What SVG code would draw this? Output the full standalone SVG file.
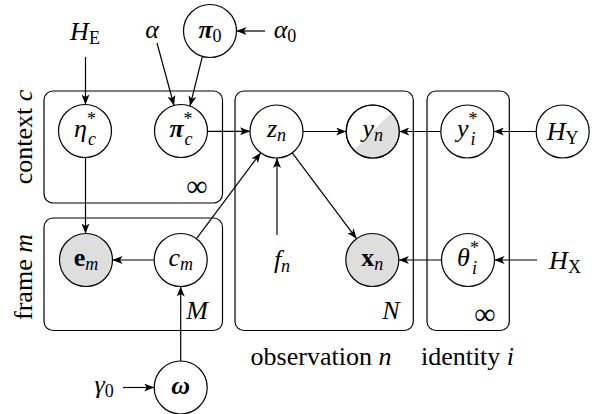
<svg xmlns="http://www.w3.org/2000/svg" width="592" height="414" viewBox="0 0 592 414" font-family="'Liberation Serif', 'Times New Roman', Tinos, 'DejaVu Serif', serif">
<style>
.nd{fill:#fff;stroke:#000;stroke-width:1.2}
.ob{fill:#dedede;stroke:#000;stroke-width:1.2}
.pl{fill:none;stroke:#000;stroke-width:1.2}
.ed{fill:none;stroke:#000;stroke-width:1.2;marker-end:url(#ah)}
text{font-family:'Liberation Serif','Times New Roman',Tinos,'DejaVu Serif',serif;font-size:26px;fill:#000}
.m{font-style:italic}
.r{font-style:normal}
.b{font-weight:bold}
.up{font-style:normal}
.s{font-size:18px}
</style>
<defs>
<marker id="ah" viewBox="0 0 10 8" refX="10" refY="4" markerWidth="10" markerHeight="8" markerUnits="userSpaceOnUse" orient="auto">
<path d="M0,0 L10,4 L0,8 L2.5,4 z" fill="#000"/>
</marker>
</defs>
<rect fill="#fff" x="0" y="0" width="592" height="414"/>
<g id="plates">
<rect class="pl" x="44" y="91" width="178.5" height="112" rx="9"/>
<rect class="pl" x="44" y="218" width="178.5" height="112.5" rx="9"/>
<rect class="pl" x="235" y="91" width="178.3" height="239.5" rx="9"/>
<rect class="pl" x="427" y="91" width="82.3" height="239.5" rx="9"/>
<text class="r" transform="translate(32,137) rotate(-90)" text-anchor="middle">context <tspan class="m">c</tspan></text>
<text class="r" transform="translate(32,277) rotate(-90)" text-anchor="middle">frame <tspan class="m">m</tspan></text>
<text class="r" x="197" y="196" text-anchor="middle" style="font-size:30px">∞</text>
<text class="m" x="197" y="319" text-anchor="middle">M</text>
<text class="m" x="391" y="319" text-anchor="middle">N</text>
<text class="r" x="485" y="324" text-anchor="middle" style="font-size:30px">∞</text>
<text class="r" x="321" y="365" text-anchor="middle">observation <tspan class="m">n</tspan></text>
<text class="r" x="467.5" y="365" text-anchor="middle">identity <tspan class="m">i</tspan></text>
</g>
<g id="edges">
<line class="ed" x1="85.5" y1="57" x2="85.5" y2="104.5"/>
<line class="ed" x1="157" y1="43" x2="174" y2="105.5"/>
<line class="ed" x1="202.3" y1="56.8" x2="190" y2="106"/>
<line class="ed" x1="265" y1="31" x2="236.5" y2="31"/>
<line class="ed" x1="207.5" y1="131.3" x2="250" y2="131.3"/>
<line class="ed" x1="303" y1="131.5" x2="346.2" y2="131.5"/>
<line class="ed" x1="440.8" y1="131.5" x2="399.2" y2="131.5"/>
<line class="ed" x1="536.2" y1="131.5" x2="493.8" y2="131.5"/>
<line class="ed" x1="277" y1="235" x2="277" y2="158"/>
<line class="ed" x1="196.5" y1="238.7" x2="260.7" y2="152.8"/>
<line class="ed" x1="292.3" y1="152.8" x2="356.5" y2="238.7"/>
<line class="ed" x1="154.2" y1="260" x2="112.5" y2="260"/>
<line class="ed" x1="85.5" y1="157.5" x2="85.5" y2="233.5"/>
<line class="ed" x1="441.5" y1="260" x2="398.8" y2="260"/>
<line class="ed" x1="537" y1="260" x2="494.5" y2="260"/>
<line class="ed" x1="180.7" y1="361" x2="180.7" y2="286.5"/>
<line class="ed" x1="123" y1="387.5" x2="154.2" y2="387.5"/>
</g>
<g id="HE"><text class="m" x="85" y="40" text-anchor="middle">H<tspan class="s up" dy="4">E</tspan></text></g>
<g id="alpha"><text class="m" x="152" y="38" text-anchor="middle">α</text></g>
<g id="alpha0"><text class="m" x="285" y="38" text-anchor="middle">α<tspan class="s up" dy="4">0</tspan></text></g>
<g id="pi0"><circle class="nd" cx="210" cy="31" r="26.5"/><text class="m b" x="210" y="38" text-anchor="middle">π<tspan class="s up" style="font-weight:normal" dy="4">0</tspan></text></g>
<g id="eta"><circle class="nd" cx="85" cy="131" r="26.5"/><text class="m" x="85" y="137" text-anchor="middle">η<tspan class="s up" dy="-12">*</tspan><tspan class="s" dx="-8" dy="20">c</tspan></text></g>
<g id="pistar"><circle class="nd" cx="181" cy="131" r="26.5"/><text class="m" x="181" y="137" text-anchor="middle"><tspan class="b">π</tspan><tspan class="s up" dy="-12">*</tspan><tspan class="s" dx="-8" dy="20">c</tspan></text></g>
<g id="zn"><circle class="nd" cx="276.5" cy="131.5" r="26.5"/><text class="m" x="276.5" y="137" text-anchor="middle">z<tspan class="s" dy="4">n</tspan></text></g>
<g id="yn"><circle class="nd" cx="372.7" cy="131.5" r="26.5"/><path d="M391.44,112.76 A26.5,26.5 0 0 1 353.96,150.24 Z" fill="#dedede"/><circle cx="372.7" cy="131.5" r="26.5" fill="none" stroke="#000" stroke-width="1.2"/><text class="m" x="372.7" y="137" text-anchor="middle">y<tspan class="s" dy="4">n</tspan></text></g>
<g id="ystar"><circle class="nd" cx="467.3" cy="131.5" r="26.5"/><text class="m" x="467.3" y="137" text-anchor="middle">y<tspan class="s up" dy="-12">*</tspan><tspan class="s" dx="-7" dy="20">i</tspan></text></g>
<g id="HY"><circle class="nd" cx="562.7" cy="131.5" r="26.5"/><text class="m" x="562.7" y="140" text-anchor="middle">H<tspan class="s up" dy="4">Y</tspan></text></g>
<g id="em"><circle class="ob" cx="86" cy="260" r="26.5"/><text class="r b" x="86" y="266" text-anchor="middle">e<tspan class="s m" style="font-weight:normal" dy="4">m</tspan></text></g>
<g id="cm"><circle class="nd" cx="180.7" cy="260" r="26.5"/><text class="m" x="180.7" y="266" text-anchor="middle">c<tspan class="s" dy="4">m</tspan></text></g>
<g id="fn"><text class="m" x="282" y="268" text-anchor="middle">f<tspan class="s" dy="4">n</tspan></text></g>
<g id="xn"><circle class="ob" cx="372.3" cy="260" r="26.5"/><text class="r b" x="372.3" y="266" text-anchor="middle">x<tspan class="s m" style="font-weight:normal" dy="4">n</tspan></text></g>
<g id="theta"><circle class="nd" cx="468" cy="260" r="26.5"/><text class="m" x="468" y="266" text-anchor="middle">θ<tspan class="s up" dy="-12">*</tspan><tspan class="s" dx="-7" dy="20">i</tspan></text></g>
<g id="HX"><text class="m" x="565" y="269" text-anchor="middle">H<tspan class="s up" dy="4">X</tspan></text></g>
<g id="omega"><circle class="nd" cx="180.7" cy="387.5" r="26.5"/><text class="m b" x="180.7" y="394" text-anchor="middle">ω</text></g>
<g id="gamma0"><text class="m" x="104" y="393" text-anchor="middle">γ<tspan class="s up" dy="4">0</tspan></text></g>
</svg>
